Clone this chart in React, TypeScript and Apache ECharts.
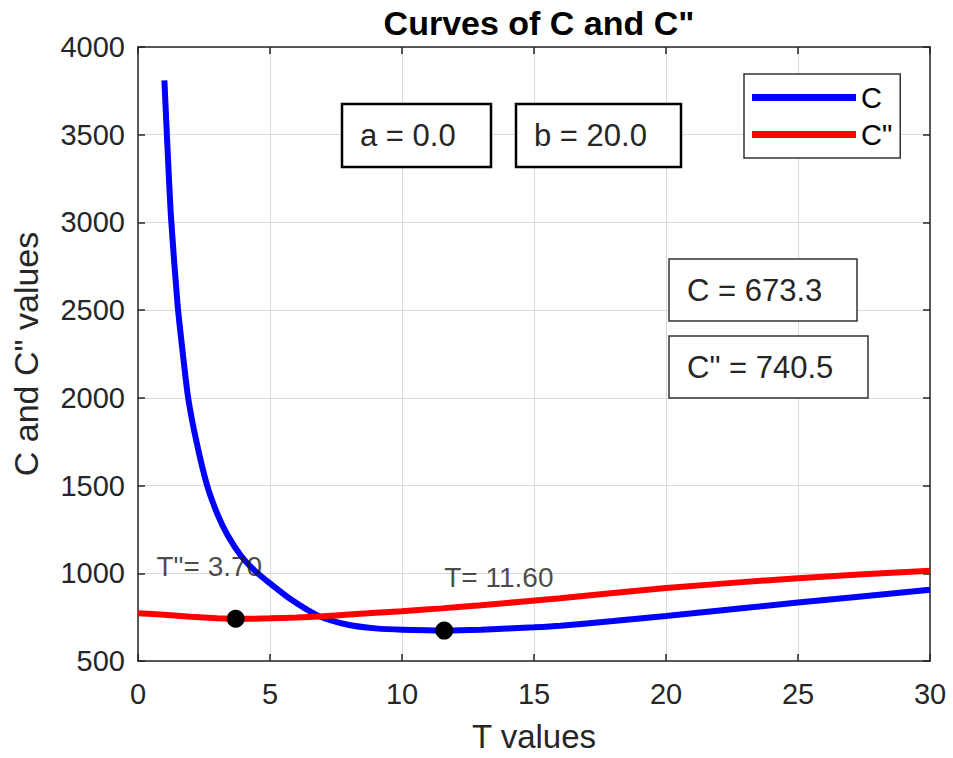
import React, { useEffect, useRef } from "react";
import * as echarts from "echarts";

// Total cost C against cycle length T
const T_C = [1.0, 1.1, 1.25, 1.5, 1.7, 1.9, 2.2, 2.6, 3.0, 3.4, 3.9, 4.4, 5.0, 5.8, 6.8, 8.0, 9.0, 10.0, 11.6, 13.0, 15.0, 16.0, 18.0, 20.0, 25.0, 30.0];
const C_VALUES = [3810, 3480, 3030, 2530, 2250, 2000, 1760, 1510, 1340, 1215, 1100, 1018, 942, 850, 760, 705, 686, 678, 673.3, 678, 692, 701, 728, 757, 833, 906];

// Alternative cost C" against T
const T_CPP = [0, 1, 2, 3, 3.7, 5, 6, 7, 8, 10, 11.5, 13, 16, 20, 25, 30];
const CPP_VALUES = [772, 763, 752, 744, 740.5, 743, 748, 755, 765, 784, 800, 818, 858, 916, 972, 1015];

// Optimal points
const T_OPT_C = 11.6;
const C_MIN = 673.3;
const T_OPT_CPP = 3.7;
const CPP_MIN = 740.5;

// Parameters
const PARAM_A = 0.0;
const PARAM_B = 20.0;

// Axis ticks
const X_TICKS = [0, 5, 10, 15, 20, 25, 30];
const Y_TICKS = [500, 1000, 1500, 2000, 2500, 3000, 3500, 4000];

const FONT = "Liberation Sans, Arial, Helvetica, sans-serif";
const AXIS_COLOR = "#262626";

function zip(xs: number[], ys: number[]): number[][] {
  return xs.map((x, i) => [x, ys[i]]);
}

function textBox(x: number, y: number, w: number, h: number, text: string, lw: number) {
  return {
    type: "group",
    children: [
      {
        type: "rect",
        shape: { x, y, width: w, height: h },
        style: { fill: "#fff", stroke: lw > 1.5 ? "#000" : "#333", lineWidth: lw },
        z: 10,
      },
      {
        type: "text",
        x: x + 18,
        y: y + h / 2,
        style: {
          text,
          font: `31px ${FONT}`,
          fill: "#262626",
          verticalAlign: "middle",
          align: "left",
        },
        z: 11,
      },
    ],
  };
}

export default function App() {
  const ref = useRef<HTMLDivElement>(null);

  useEffect(() => {
    if (!ref.current) return;
    const chart = echarts.init(ref.current, undefined, { renderer: "svg" });

    const xMin = X_TICKS[0];
    const xMax = X_TICKS[X_TICKS.length - 1];
    const xStep = X_TICKS[1] - X_TICKS[0];
    const yMin = Y_TICKS[0];
    const yMax = Y_TICKS[Y_TICKS.length - 1];
    const yStep = Y_TICKS[1] - Y_TICKS[0];

    const frameAxis = {
      axisLine: { show: true, onZero: false, lineStyle: { color: AXIS_COLOR, width: 1.5 } },
      axisTick: { show: true, inside: true, length: 7, lineStyle: { color: AXIS_COLOR, width: 1.5 } },
      splitLine: { show: false },
      axisLabel: { show: false },
    };

    const tickLabel = {
      fontFamily: FONT,
      fontSize: 29,
      color: AXIS_COLOR,
      formatter: (v: number) => String(v),
    };

    chart.setOption({
      animation: false,
      backgroundColor: "#fff",
      title: {
        text: 'Curves of C and C"',
        left: 534,
        top: 1,
        textAlign: "center",
        textStyle: { fontFamily: FONT, fontSize: 34, fontWeight: "bold", color: "#000" },
      },
      legend: {
        data: ["C", 'C"'],
        orient: "vertical",
        left: 744,
        top: 74,
        padding: [9, 8, 9, 8],
        itemWidth: 104,
        itemHeight: 7,
        itemGap: 8,
        itemStyle: { borderWidth: 0 },
        icon: "rect",
        backgroundColor: "#fff",
        borderColor: "#333",
        borderWidth: 1.5,
        borderRadius: 0,
        textStyle: { fontFamily: FONT, fontSize: 29, color: "#000", lineHeight: 28 },
      },
      grid: { left: 138, right: 23, top: 47, bottom: 96, containLabel: false },
      xAxis: [
        {
          type: "value",
          min: xMin,
          max: xMax,
          interval: xStep,
          position: "bottom",
          name: "T values",
          nameLocation: "middle",
          nameGap: 59,
          nameTextStyle: { fontFamily: FONT, fontSize: 33, color: AXIS_COLOR },
          axisLine: { show: true, onZero: false, lineStyle: { color: AXIS_COLOR, width: 1.5 } },
          axisTick: { show: true, inside: true, length: 7, lineStyle: { color: AXIS_COLOR, width: 1.5 } },
          axisLabel: { ...tickLabel, margin: 18 },
          splitLine: { show: true, lineStyle: { color: "#dadada", width: 1 } },
        },
        { type: "value", min: xMin, max: xMax, interval: xStep, position: "top", ...frameAxis },
      ],
      yAxis: [
        {
          type: "value",
          min: yMin,
          max: yMax,
          interval: yStep,
          position: "left",
          name: 'C and C" values',
          nameLocation: "middle",
          nameGap: 95,
          nameTextStyle: { fontFamily: FONT, fontSize: 34, color: AXIS_COLOR },
          axisLine: { show: true, onZero: false, lineStyle: { color: AXIS_COLOR, width: 1.5 } },
          axisTick: { show: true, inside: true, length: 7, lineStyle: { color: AXIS_COLOR, width: 1.5 } },
          axisLabel: { ...tickLabel, margin: 13 },
          splitLine: { show: true, lineStyle: { color: "#dadada", width: 1 } },
        },
        { type: "value", min: yMin, max: yMax, interval: yStep, position: "right", ...frameAxis },
      ],
      series: [
        {
          name: "C",
          type: "line",
          data: zip(T_C, C_VALUES),
          showSymbol: false,
          smooth: 0.25,
          lineStyle: { color: "#0000ff", width: 6 },
          itemStyle: { color: "#0000ff" },
          z: 2,
        },
        {
          name: 'C"',
          type: "line",
          data: zip(T_CPP, CPP_VALUES),
          showSymbol: false,
          smooth: 0.25,
          lineStyle: { color: "#ff0000", width: 6 },
          itemStyle: { color: "#ff0000" },
          z: 3,
        },
        {
          name: "optimum",
          type: "scatter",
          data: [
            [T_OPT_CPP, CPP_MIN],
            [T_OPT_C, C_MIN],
          ],
          symbol: "circle",
          symbolSize: 18,
          itemStyle: { color: "#000", opacity: 1 },
          z: 5,
        },
        {
          name: "optimum labels",
          type: "scatter",
          data: [
            { value: [T_OPT_CPP - 3, CPP_MIN + 300], label: { formatter: `T"= ${T_OPT_CPP.toFixed(2)}` } },
            { value: [T_OPT_C, C_MIN + 300], label: { formatter: `T= ${T_OPT_C.toFixed(2)}` } },
          ],
          symbolSize: 0,
          label: {
            show: true,
            position: "right",
            distance: 0,
            fontFamily: FONT,
            fontSize: 28,
            color: "#1a1a1a",
          },
          z: 6,
        },
      ],
      graphic: [
        textBox(342, 104, 149, 63, `a = ${PARAM_A.toFixed(1)}`, 2.5),
        textBox(516, 104, 165, 63, `b = ${PARAM_B.toFixed(1)}`, 2.5),
        textBox(669, 259, 188, 62, `C = ${C_MIN.toFixed(1)}`, 1.5),
        textBox(669, 336, 199, 62, `C" = ${CPP_MIN.toFixed(1)}`, 1.5),
      ],
    });

    return () => chart.dispose();
  }, []);

  return (
    <div
      ref={ref}
      style={{ position: "fixed", left: 0, top: 0, width: 953, height: 758, background: "#fff" }}
    />
  );
}
